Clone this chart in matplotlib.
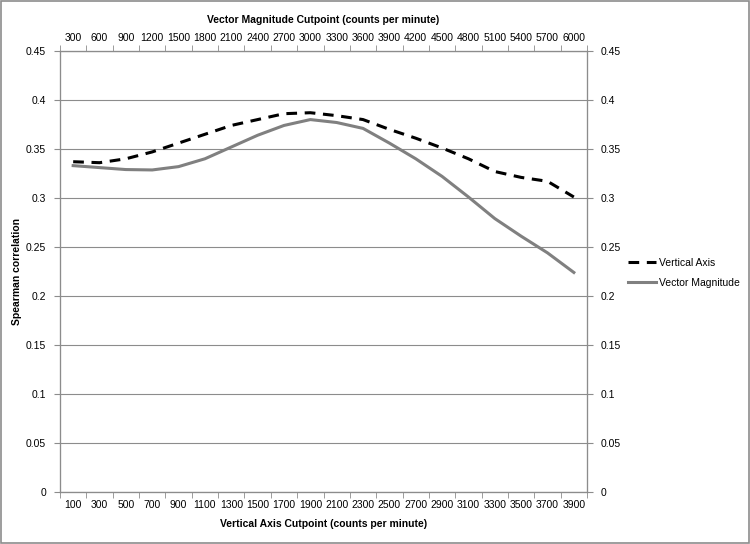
import matplotlib
matplotlib.use('Agg')
import matplotlib.pyplot as plt
from matplotlib.patches import Rectangle

plt.rcParams['font.family'] = ['Liberation Sans', 'DejaVu Sans']

va_cut = [100, 300, 500, 700, 900, 1100, 1300, 1500, 1700, 1900,
          2100, 2300, 2500, 2700, 2900, 3100, 3300, 3500, 3700, 3900]
vm_cut = [300, 600, 900, 1200, 1500, 1800, 2100, 2400, 2700, 3000,
          3300, 3600, 3900, 4200, 4500, 4800, 5100, 5400, 5700, 6000]
vertical_axis = [0.337, 0.336, 0.340, 0.347, 0.356, 0.365, 0.374, 0.380, 0.386, 0.387,
                 0.384, 0.380, 0.370, 0.361, 0.351, 0.340, 0.327, 0.321, 0.317, 0.301]
vector_mag = [0.333, 0.331, 0.329, 0.3286, 0.332, 0.340, 0.352, 0.364, 0.374, 0.380,
              0.377, 0.371, 0.356, 0.340, 0.322, 0.301, 0.279, 0.261, 0.244, 0.224]
yticks = [0, 0.05, 0.1, 0.15, 0.2, 0.25, 0.3, 0.35, 0.4, 0.45]

grey = '#8c8c8c'
fs = 7.5

fig = plt.figure(figsize=(7.5, 5.44), dpi=100)
ax = fig.add_axes([0.08, 0.0956, 0.7027, 0.8107])
x = list(range(len(va_cut)))

ax.plot(x, vertical_axis, color='black', lw=2.2, ls=(0, (3.5, 2.5)), label='Vertical Axis')
ax.plot(x, vector_mag, color='#808080', lw=2.2, label='Vector Magnitude')

ax.set_xlim(-0.5, len(x) - 0.5)
ax.set_ylim(0, 0.45)
ax.set_yticks(yticks)
ax.set_yticklabels(['%g' % v for v in yticks], fontsize=fs)
ax.yaxis.grid(True, color=grey, lw=0.8)
ax.set_axisbelow(True)
ax.set_xticks(x)
ax.set_xticklabels([str(v) for v in va_cut], fontsize=fs)
ax.set_xticks([i - 0.5 for i in range(len(x) + 1)], minor=True)
ax.tick_params(axis='x', which='major', length=0, pad=6)
ax.tick_params(axis='x', which='minor', length=4, direction='out', color=grey)
ax.tick_params(axis='y', length=4, direction='out', color=grey, pad=6)
for s in ax.spines.values():
    s.set_color(grey)
ax.set_xlabel('Vertical Axis Cutpoint (counts per minute)', fontsize=fs, fontweight='bold', labelpad=6)
ax.set_ylabel('Spearman correlation', fontsize=fs, fontweight='bold')
ax.yaxis.set_label_coords(-0.072, 0.5)

top = ax.twiny()
top.set_xlim(ax.get_xlim())
top.set_xticks(x)
top.set_xticklabels([str(v) for v in vm_cut], fontsize=fs)
top.set_xticks([i - 0.5 for i in range(len(x) + 1)], minor=True)
top.tick_params(axis='x', which='major', length=0, pad=6)
top.tick_params(axis='x', which='minor', length=4, direction='out', color=grey)
top.set_xlabel('Vector Magnitude Cutpoint (counts per minute)', fontsize=fs, fontweight='bold', labelpad=7)

right = ax.twinx()
right.set_ylim(0, 0.45)
right.set_yticks(yticks)
right.set_yticklabels(['%g' % v for v in yticks], fontsize=fs)
right.tick_params(axis='y', length=4, direction='out', color=grey, pad=6)
for a in (top, right):
    for s in a.spines.values():
        s.set_color(grey)

ax.legend(loc='center left', bbox_to_anchor=(1.06, 0.497), frameon=False, fontsize=fs,
          handlelength=2.7, handletextpad=0.3, labelspacing=0.95)

fig.patches.append(Rectangle((0.001, 0.001), 0.997, 0.997, transform=fig.transFigure,
                             fill=False, edgecolor=grey, lw=1.2))

fig.savefig('out.png', dpi=100)
